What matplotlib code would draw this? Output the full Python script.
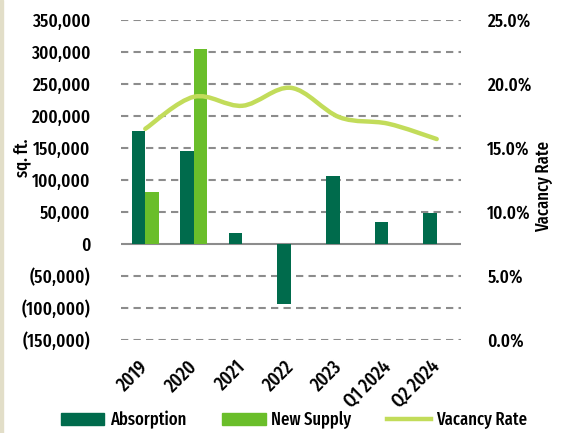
import matplotlib.pyplot as plt
import numpy as np
from matplotlib.path import Path
from matplotlib.patches import PathPatch, Patch
from matplotlib.lines import Line2D
from matplotlib.ticker import FuncFormatter

plt.rcParams['font.family'] = ['Fira Sans Extra Condensed', 'Barlow Condensed', 'DejaVu Sans']
plt.rcParams['font.weight'] = 'medium'

categories = ["2019", "2020", "2021", "2022", "2023", "Q1 2024", "Q2 2024"]
absorption = [176000, 145500, 16700, -94400, 106000, 35000, 48500]
new_supply = [81400, 304200, np.nan, np.nan, np.nan, np.nan, np.nan]
vacancy = [0.165, 0.190, 0.183, 0.197, 0.174, 0.169, 0.157]

DARK = '#006B4C'
LIGHT = '#6ABE2A'
LINE = '#C2DC5A'
GRID = '#8C8C8C'

fig = plt.figure(figsize=(5.61, 4.33), dpi=100)
fig.patches.append(plt.Rectangle((0, 0), 3 / 561, 1, transform=fig.transFigure,
                                 color='#E2DEC8', zorder=0))
ax = fig.add_axes([121 / 561, 1 - 340 / 433, 340 / 561, 320 / 433])
ax2 = ax.twinx()

x = np.arange(len(categories))
w = 0.28
ax.bar(x - w / 2, absorption, w, color=DARK, zorder=3)
ax.bar(x + w / 2, new_supply, w, color=LIGHT, zorder=3)

ax.set_ylim(-150000, 350000)
ax.set_xlim(-0.5, len(categories) - 0.5)
ticks = np.arange(-150000, 350001, 50000)
ax.set_yticks(ticks)
for t in ticks:
    if t == 0:
        ax.axhline(0, color=GRID, lw=1.5, zorder=2)
    else:
        ax.axhline(t, color=GRID, lw=1.5, dashes=(3.5, 2.5), zorder=1)


def fmt(v, pos):
    if v < 0:
        return '({:,.0f})'.format(-v)
    return '{:,.0f}'.format(v)


ax.yaxis.set_major_formatter(FuncFormatter(fmt))
ax.set_xticks(x)
ax.set_xticklabels(categories, rotation=45, ha='right', va='center', rotation_mode='anchor')
ax.tick_params(axis='y', length=0, labelsize=13.5, pad=22)
ax.tick_params(axis='x', length=0, pad=17, labelsize=14)
fig.text(22 / 561, 1 - 158 / 433, 'sq. ft.', rotation=90, fontsize=13,
         ha='center', va='center')

# smoothed vacancy line (bezier through the data points)
pts = np.column_stack([x, vacancy]).astype(float)
verts = [pts[0]]
codes = [Path.MOVETO]
n = len(pts)
for i in range(n - 1):
    p0 = pts[max(i - 1, 0)]
    p1 = pts[i]
    p2 = pts[i + 1]
    p3 = pts[min(i + 2, n - 1)]
    c1 = p1 + (p2 - p0) / 6
    c2 = p2 - (p3 - p1) / 6
    verts += [c1, c2, p2]
    codes += [Path.CURVE4] * 3
ax2.add_patch(PathPatch(Path(verts, codes), fill=False, edgecolor=LINE, lw=3.2,
                        capstyle='round', zorder=4))
ax2.set_ylim(0, 0.25)
ax2.set_yticks(np.arange(0, 0.2501, 0.05))
ax2.yaxis.set_major_formatter(FuncFormatter(lambda v, p: '{:.1f}%'.format(v * 100)))
ax2.tick_params(axis='y', length=0, labelsize=13.5, pad=19)
fig.text(544 / 561, 1 - 187 / 433, 'Vacancy Rate', rotation=90, fontsize=13,
         ha='center', va='center')

for a in (ax, ax2):
    for s in a.spines.values():
        s.set_visible(False)

handles = [Patch(color=DARK), Patch(color=LIGHT), Line2D([], [], color=LINE, lw=3.2)]
fig.legend(handles, ['Absorption', 'New Supply', 'Vacancy Rate'], ncol=3, frameon=False,
           loc='center', bbox_to_anchor=(294 / 561, 1 - 420 / 433), fontsize=13,
           handlelength=2.4, handleheight=0.65, handletextpad=0.3, columnspacing=2.0)

fig.savefig('out.png', dpi=100)
